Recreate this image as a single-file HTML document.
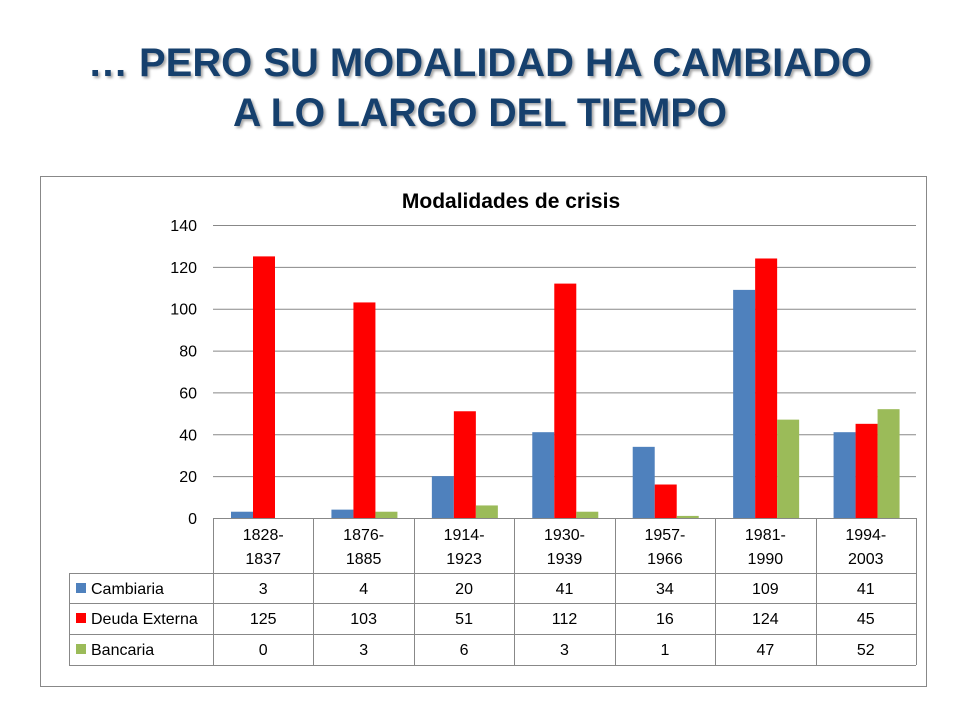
<!DOCTYPE html>
<html><head><meta charset="utf-8">
<style>
html,body{margin:0;padding:0;background:#fff;}
svg{display:block;font-family:"Liberation Sans",sans-serif;}
</style></head>
<body>
<svg id="c" width="960" height="720" viewBox="0 0 960 720" xmlns="http://www.w3.org/2000/svg">
  <defs>
    <filter id="sh" x="-5%" y="-20%" width="110%" height="140%">
      <feDropShadow dx="2" dy="2" stdDeviation="1.2" flood-color="#000" flood-opacity="0.35"/>
    </filter>
  </defs>
  <g filter="url(#sh)" fill="#17406D" font-weight="bold" font-size="40" text-anchor="middle">
    <text x="480" y="76" textLength="784" lengthAdjust="spacingAndGlyphs">… PERO SU MODALIDAD HA CAMBIADO</text>
    <text x="480" y="126" textLength="494" lengthAdjust="spacingAndGlyphs">A LO LARGO DEL TIEMPO</text>
  </g>
  <rect x="40.5" y="176.5" width="886" height="510" fill="#fff" stroke="#888"/>
  <text x="511" y="208" font-size="21" font-weight="bold" text-anchor="middle" fill="#000">Modalidades de crisis</text>
  <g id="grid"></g>
  <g id="bars"></g>
  <g id="table"></g>
</svg>
<script>
const categories = [["1828-","1837"],["1876-","1885"],["1914-","1923"],["1930-","1939"],["1957-","1966"],["1981-","1990"],["1994-","2003"]];
const seriesNames = ["Cambiaria","Deuda Externa","Bancaria"];
const cambiaria = [3,4,20,41,34,109,41];
const deudaExterna = [125,103,51,112,16,124,45];
const bancaria = [0,3,6,3,1,47,52];
const yTicks = [0,20,40,60,80,100,120,140];

const colors = ["#4F81BD","#FF0000","#9BBB59"];
const series = [cambiaria, deudaExterna, bancaria];
const NS = "http://www.w3.org/2000/svg";
const X0 = 213, X1 = 916, Y0 = 518, Y1 = 225, YMAX = 140;
const gw = (X1 - X0) / categories.length;
const y = v => Y0 - v / YMAX * (Y0 - Y1);
const gx = i => X0 + i * gw;
function mk(tag, attrs, parent, text){
  const e = document.createElementNS(NS, tag);
  for (const k in attrs) e.setAttribute(k, attrs[k]);
  if (text !== undefined) e.textContent = text;
  parent.appendChild(e);
  return e;
}
const grid = document.getElementById('grid');
yTicks.forEach(t => {
  const l = mk('line', {x1:X0, x2:X1, y1:y(t)+0.5, y2:y(t)+0.5, stroke:"#888", "stroke-width":1}, grid);
  
  
  const tx = mk('text', {x:197, y:y(t)+6, "font-size":16, "text-anchor":"end", fill:"#000"}, grid, String(t));
  
  
});
const bars = document.getElementById('bars');
const bw = 22, off = 18;
series.forEach((s, si) => {
  s.forEach((v, i) => {
    const r = mk('rect', {x:gx(i)+off+si*bw, y:y(v), width:bw, height:Math.max(0, Y0 - y(v)), fill:colors[si]}, bars);
    
    
  });
});
const tb = document.getElementById('table');
const TL = 69, rows = [518, 573, 603, 634, 665];
// horizontal lines
mk('line', {x1:X0, x2:X1, y1:518.5, y2:518.5, stroke:"#888"}, tb);
for (let r = 1; r < rows.length; r++) {
  const l = mk('line', {x1:TL, x2:X1, y1:rows[r]+0.5, y2:rows[r]+0.5, stroke:"#888"}, tb);
  
  
}
mk('line', {x1:TL+0.5, x2:TL+0.5, y1:573, y2:665, stroke:"#888"}, tb);
for (let i = 0; i <= categories.length; i++) {
  const x = Math.round(gx(i)) + 0.5;
  mk('line', {x1:x, x2:x, y1:518, y2:665, stroke:"#888"}, tb);
}
categories.forEach((c, i) => {
  const cx = gx(i) + gw/2;
  const t1 = mk('text', {x:cx, y:540, "font-size":16, "text-anchor":"middle", fill:"#000"}, tb, c[0]);
  
  
  mk('text', {x:cx, y:564, "font-size":16, "text-anchor":"middle", fill:"#000"}, tb, c[1]);
});
series.forEach((s, si) => {
  const ry = rows[si+1], mid = ry + 21;
  const sq = mk('rect', {x:76, y:ry+10, width:10, height:10, fill:colors[si]}, tb);
  
  
  const lt = mk('text', {x:91, y:mid, "font-size":16, fill:"#000"}, tb, seriesNames[si]);
  
  
  s.forEach((v, i) => {
    const t = mk('text', {x:gx(i)+gw/2, y:mid, "font-size":16, "text-anchor":"middle", fill:"#000"}, tb, String(v));
    
    
  });
});
</script>
</body></html>
